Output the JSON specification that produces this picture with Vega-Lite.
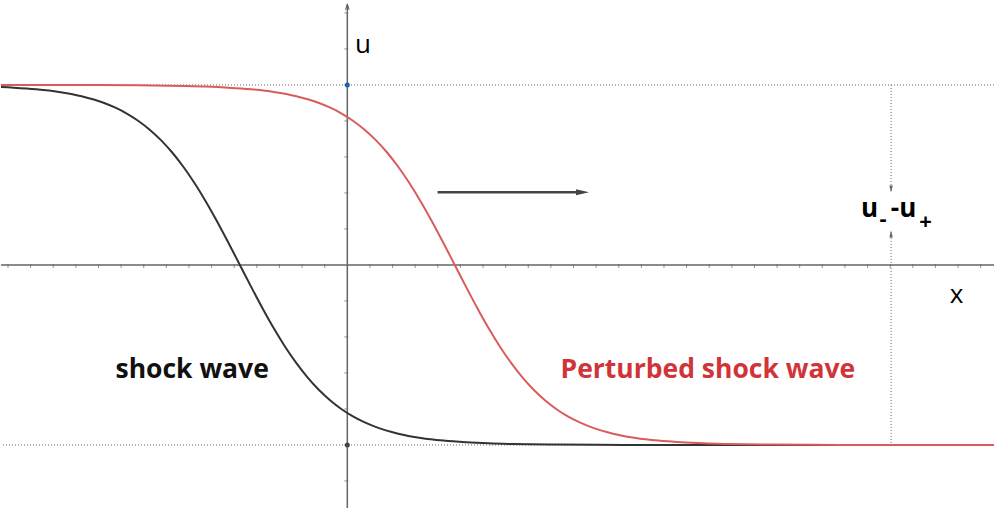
{
  "$schema": "https://vega.github.io/schema/vega-lite/v6.json",
  "width": 995,
  "height": 513,
  "autosize": {"type": "fit", "contains": "padding"},
  "padding": 0,
  "background": "white",
  "config": {"view": {"stroke": null}},
  "datasets": {
    "curves": [
      {"x": -15.75, "u": 4.955, "s": "shock"}, {"x": -14.75, "u": 4.925, "s": "shock"}, {"x": -13.75, "u": 4.879, "s": "shock"}, {"x": -12.75, "u": 4.806, "s": "shock"}, {"x": -11.75, "u": 4.687, "s": "shock"}, {"x": -10.75, "u": 4.499, "s": "shock"}, {"x": -10.25, "u": 4.368, "s": "shock"}, {"x": -9.75, "u": 4.206, "s": "shock"}, {"x": -9.25, "u": 4.007, "s": "shock"}, {"x": -8.75, "u": 3.765, "s": "shock"}, {"x": -8.25, "u": 3.475, "s": "shock"}, {"x": -7.75, "u": 3.131, "s": "shock"}, {"x": -7.25, "u": 2.729, "s": "shock"}, {"x": -6.75, "u": 2.271, "s": "shock"}, {"x": -6.25, "u": 1.759, "s": "shock"}, {"x": -5.75, "u": 1.201, "s": "shock"}, {"x": -5.25, "u": 0.609, "s": "shock"}, {"x": -4.75, "u": 0, "s": "shock"}, {"x": -4.25, "u": -0.609, "s": "shock"}, {"x": -3.75, "u": -1.201, "s": "shock"}, {"x": -3.25, "u": -1.759, "s": "shock"}, {"x": -2.75, "u": -2.271, "s": "shock"}, {"x": -2.25, "u": -2.729, "s": "shock"}, {"x": -1.75, "u": -3.131, "s": "shock"}, {"x": -1.25, "u": -3.475, "s": "shock"}, {"x": -0.75, "u": -3.765, "s": "shock"}, {"x": -0.25, "u": -4.007, "s": "shock"}, {"x": 0.25, "u": -4.206, "s": "shock"}, {"x": 0.75, "u": -4.368, "s": "shock"}, {"x": 1.25, "u": -4.499, "s": "shock"}, {"x": 2.25, "u": -4.687, "s": "shock"}, {"x": 3.25, "u": -4.806, "s": "shock"}, {"x": 4.25, "u": -4.879, "s": "shock"}, {"x": 5.25, "u": -4.925, "s": "shock"}, {"x": 6.25, "u": -4.955, "s": "shock"}, {"x": 7.25, "u": -4.972, "s": "shock"}, {"x": 9.25, "u": -4.99, "s": "shock"}, {"x": 12.25, "u": -4.998, "s": "shock"}, {"x": 15.25, "u": -5, "s": "shock"}, {"x": 29.25, "u": -5, "s": "shock"},
      {"x": -16.25, "u": 5, "s": "perturbed"}, {"x": -12.25, "u": 4.998, "s": "perturbed"}, {"x": -9.25, "u": 4.99, "s": "perturbed"}, {"x": -7.25, "u": 4.972, "s": "perturbed"}, {"x": -6.25, "u": 4.955, "s": "perturbed"}, {"x": -5.25, "u": 4.925, "s": "perturbed"}, {"x": -4.25, "u": 4.879, "s": "perturbed"}, {"x": -3.25, "u": 4.806, "s": "perturbed"}, {"x": -2.25, "u": 4.687, "s": "perturbed"}, {"x": -1.25, "u": 4.499, "s": "perturbed"}, {"x": -0.75, "u": 4.368, "s": "perturbed"}, {"x": -0.25, "u": 4.206, "s": "perturbed"}, {"x": 0.25, "u": 4.007, "s": "perturbed"}, {"x": 0.75, "u": 3.765, "s": "perturbed"}, {"x": 1.25, "u": 3.475, "s": "perturbed"}, {"x": 1.75, "u": 3.131, "s": "perturbed"}, {"x": 2.25, "u": 2.729, "s": "perturbed"}, {"x": 2.75, "u": 2.271, "s": "perturbed"}, {"x": 3.25, "u": 1.759, "s": "perturbed"}, {"x": 3.75, "u": 1.201, "s": "perturbed"}, {"x": 4.25, "u": 0.609, "s": "perturbed"}, {"x": 4.75, "u": 0, "s": "perturbed"}, {"x": 5.25, "u": -0.609, "s": "perturbed"}, {"x": 5.75, "u": -1.201, "s": "perturbed"}, {"x": 6.25, "u": -1.759, "s": "perturbed"}, {"x": 6.75, "u": -2.271, "s": "perturbed"}, {"x": 7.25, "u": -2.729, "s": "perturbed"}, {"x": 7.75, "u": -3.131, "s": "perturbed"}, {"x": 8.25, "u": -3.475, "s": "perturbed"}, {"x": 8.75, "u": -3.765, "s": "perturbed"}, {"x": 9.25, "u": -4.007, "s": "perturbed"}, {"x": 9.75, "u": -4.206, "s": "perturbed"}, {"x": 10.25, "u": -4.368, "s": "perturbed"}, {"x": 10.75, "u": -4.499, "s": "perturbed"}, {"x": 11.75, "u": -4.687, "s": "perturbed"}, {"x": 12.75, "u": -4.806, "s": "perturbed"}, {"x": 13.75, "u": -4.879, "s": "perturbed"}, {"x": 14.75, "u": -4.925, "s": "perturbed"}, {"x": 15.75, "u": -4.955, "s": "perturbed"}, {"x": 16.75, "u": -4.972, "s": "perturbed"}, {"x": 18.75, "u": -4.99, "s": "perturbed"}, {"x": 21.75, "u": -4.998, "s": "perturbed"}, {"x": 24.75, "u": -5, "s": "perturbed"}, {"x": 29.25, "u": -5, "s": "perturbed"}
    ],
    "xticks": [
      {"x": -15}, {"x": -14}, {"x": -13}, {"x": -12}, {"x": -11}, {"x": -10}, {"x": -9}, {"x": -8}, {"x": -7}, {"x": -6}, {"x": -5}, {"x": -4}, {"x": -3}, {"x": -2}, {"x": -1},
      {"x": 1}, {"x": 2}, {"x": 3}, {"x": 4}, {"x": 5}, {"x": 6}, {"x": 7}, {"x": 8}, {"x": 9}, {"x": 10}, {"x": 11}, {"x": 12}, {"x": 13}, {"x": 14}, {"x": 15}, {"x": 16}, {"x": 17}, {"x": 18}, {"x": 19}, {"x": 20}, {"x": 21}, {"x": 22}, {"x": 23}, {"x": 24}, {"x": 25}, {"x": 26}, {"x": 27}, {"x": 28}
    ],
    "yticks": [
      {"y": -6}, {"y": -5}, {"y": -4}, {"y": -3}, {"y": -2}, {"y": -1}, {"y": 1}, {"y": 2}, {"y": 3}, {"y": 4}, {"y": 5}, {"y": 6}, {"y": 7}
    ]
  },
  "encoding": {
    "x": {"type": "quantitative", "scale": {"domain": [-15.31, 28.59], "nice": false, "zero": false}, "axis": null},
    "y": {"type": "quantitative", "scale": {"domain": [-6.89, 7.36], "nice": false, "zero": false}, "axis": null}
  },
  "layer": [
    {
      "data": {"values": [{"y": 5}, {"y": -5}]},
      "mark": {"type": "rule", "color": "#666666", "strokeWidth": 1, "strokeDash": [1, 2]},
      "encoding": {"y": {"field": "y", "type": "quantitative"}}
    },
    {
      "data": {"values": [{"x": 24.04, "y": 5, "y2": 2.03}, {"x": 24.04, "y": 0.917, "y2": -5}]},
      "mark": {"type": "rule", "color": "#666666", "strokeWidth": 1, "strokeDash": [1, 2]},
      "encoding": {"x": {"field": "x", "type": "quantitative"}, "y": {"field": "y", "type": "quantitative"}, "y2": {"field": "y2"}}
    },
    {
      "data": {"values": [{"y": 0}]},
      "mark": {"type": "rule", "color": "#666666", "strokeWidth": 1.5},
      "encoding": {"y": {"field": "y", "type": "quantitative"}}
    },
    {
      "data": {"values": [{"x": 0, "y": -6.75, "y2": 7.2}]},
      "mark": {"type": "rule", "color": "#666666", "strokeWidth": 1.5},
      "encoding": {"x": {"field": "x", "type": "quantitative"}, "y": {"field": "y", "type": "quantitative"}, "y2": {"field": "y2"}}
    },
    {
      "data": {"name": "xticks"},
      "transform": [{"calculate": "0", "as": "y"}],
      "mark": {"type": "tick", "orient": "vertical", "size": 4, "thickness": 1, "color": "#666666", "yOffset": 1},
      "encoding": {"x": {"field": "x", "type": "quantitative"}, "y": {"field": "y", "type": "quantitative"}}
    },
    {
      "data": {"name": "yticks"},
      "transform": [{"calculate": "0", "as": "x"}],
      "mark": {"type": "tick", "orient": "horizontal", "size": 4, "thickness": 1, "color": "#666666", "xOffset": -1},
      "encoding": {"x": {"field": "x", "type": "quantitative"}, "y": {"field": "y", "type": "quantitative"}}
    },
    {
      "data": {"values": [{"x": 0, "y": 7.17}]},
      "mark": {"type": "point", "shape": "M-0.6,1L0,-1L0.6,1", "size": 36, "filled": false, "stroke": "#555555", "strokeWidth": 1, "opacity": 1},
      "encoding": {"x": {"field": "x", "type": "quantitative"}, "y": {"field": "y", "type": "quantitative"}}
    },
    {
      "data": {"name": "curves"},
      "transform": [{"filter": "datum.s === 'shock'"}],
      "mark": {"type": "line", "interpolate": "monotone", "strokeWidth": 2, "clip": true, "color": "#333333"},
      "encoding": {"x": {"field": "x", "type": "quantitative"}, "y": {"field": "u", "type": "quantitative"}}
    },
    {
      "data": {"name": "curves"},
      "transform": [{"filter": "datum.s === 'perturbed'"}],
      "mark": {"type": "line", "interpolate": "monotone", "strokeWidth": 2, "clip": true, "color": "#d95c5c"},
      "encoding": {"x": {"field": "x", "type": "quantitative"}, "y": {"field": "u", "type": "quantitative"}}
    },
    {
      "data": {"values": [{"x": 0, "y": 5}]},
      "mark": {"type": "point", "filled": true, "size": 25, "opacity": 1, "color": "#1f5fb4"},
      "encoding": {"x": {"field": "x", "type": "quantitative"}, "y": {"field": "y", "type": "quantitative"}}
    },
    {
      "data": {"values": [{"x": 0, "y": -5}]},
      "mark": {"type": "point", "filled": true, "size": 25, "opacity": 1, "color": "#444444"},
      "encoding": {"x": {"field": "x", "type": "quantitative"}, "y": {"field": "y", "type": "quantitative"}}
    },
    {
      "data": {"values": [{"x": 3.99, "x2": 10.15, "y": 2.02}]},
      "mark": {"type": "rule", "color": "#444444", "strokeWidth": 2.5},
      "encoding": {"x": {"field": "x", "type": "quantitative"}, "x2": {"field": "x2"}, "y": {"field": "y", "type": "quantitative"}}
    },
    {
      "data": {"values": [{"x": 10.4, "y": 2.02}]},
      "mark": {"type": "point", "shape": "M-1,-0.46L1,0L-1,0.46Z", "size": 169, "filled": true, "color": "#444444", "opacity": 1},
      "encoding": {"x": {"field": "x", "type": "quantitative"}, "y": {"field": "y", "type": "quantitative"}}
    },
    {
      "data": {"values": [{"x": 24.04, "y": 2.11}]},
      "mark": {"type": "point", "shape": "M-0.5,-1L0.5,-1L0,1Z", "size": 49, "filled": true, "color": "#666666", "opacity": 1},
      "encoding": {"x": {"field": "x", "type": "quantitative"}, "y": {"field": "y", "type": "quantitative"}}
    },
    {
      "data": {"values": [{"x": 24.04, "y": 0.86}]},
      "mark": {"type": "point", "shape": "M-0.5,1L0.5,1L0,-1Z", "size": 49, "filled": true, "color": "#666666", "opacity": 1},
      "encoding": {"x": {"field": "x", "type": "quantitative"}, "y": {"field": "y", "type": "quantitative"}}
    },
    {
      "data": {"values": [{"x": 0.69, "y": 5.89, "t": "u"}, {"x": 26.93, "y": -1.056, "t": "x"}]},
      "mark": {"type": "text", "font": "Open Sans", "fontSize": 26, "color": "#000000", "align": "center", "baseline": "alphabetic"},
      "encoding": {"x": {"field": "x", "type": "quantitative"}, "y": {"field": "y", "type": "quantitative"}, "text": {"field": "t"}}
    },
    {
      "data": {"values": [{"x": 23.09, "y": 1.333, "t": "u"}, {"x": 24.59, "y": 1.333, "t": "-u"}]},
      "mark": {"type": "text", "font": "Open Sans", "fontSize": 26, "fontWeight": "bold", "color": "#000000", "align": "center", "baseline": "alphabetic"},
      "encoding": {"x": {"field": "x", "type": "quantitative"}, "y": {"field": "y", "type": "quantitative"}, "text": {"field": "t"}}
    },
    {
      "data": {"values": [{"x": 23.69, "y": 1.08, "t": "-"}, {"x": 25.56, "y": 1.0, "t": "+"}]},
      "mark": {"type": "text", "font": "Open Sans", "fontSize": 22, "fontWeight": "bold", "color": "#000000", "align": "center", "baseline": "alphabetic"},
      "encoding": {"x": {"field": "x", "type": "quantitative"}, "y": {"field": "y", "type": "quantitative"}, "text": {"field": "t"}}
    },
    {
      "data": {"values": [{"x": -6.86, "y": -3.139, "t": "shock wave"}]},
      "mark": {"type": "text", "font": "Open Sans", "fontSize": 26.5, "fontWeight": "bold", "align": "center", "baseline": "alphabetic", "color": "#111111"},
      "encoding": {"x": {"field": "x", "type": "quantitative"}, "y": {"field": "y", "type": "quantitative"}, "text": {"field": "t"}}
    },
    {
      "data": {"values": [{"x": 15.94, "y": -3.139, "t": "Perturbed shock wave"}]},
      "mark": {"type": "text", "font": "Open Sans", "fontSize": 26.5, "fontWeight": "bold", "align": "center", "baseline": "alphabetic", "color": "#d13438"},
      "encoding": {"x": {"field": "x", "type": "quantitative"}, "y": {"field": "y", "type": "quantitative"}, "text": {"field": "t"}}
    }
  ]
}
